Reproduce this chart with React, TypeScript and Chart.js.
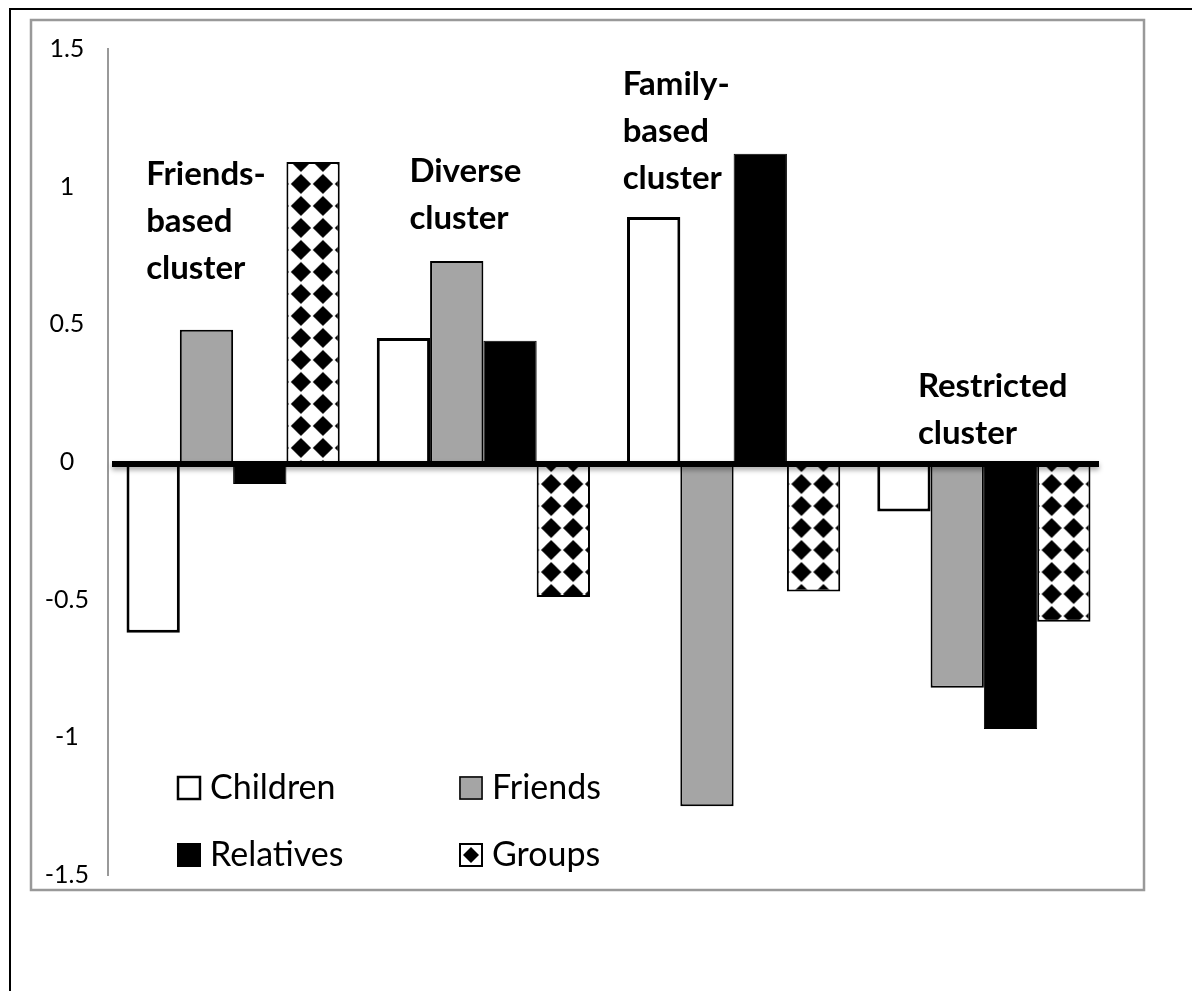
import React, { useEffect, useRef } from "react";
import { Chart, registerables } from "chart.js";

Chart.register(...registerables);

// ---------- data ----------
const categories = ["Friends-based cluster", "Diverse cluster", "Family-based cluster", "Restricted cluster"];
const clusterLabelLines = [
  ["Friends-", "based", "cluster"],
  ["Diverse", "cluster"],
  ["Family-", "based", "cluster"],
  ["Restricted", "cluster"],
];
const seriesNames = ["Children", "Friends", "Relatives", "Groups"];
const children = [-0.62, 0.45, 0.89, -0.18];
const friends = [0.48, 0.73, -1.25, -0.82];
const relatives = [-0.08, 0.44, 1.12, -0.97];
const groups = [1.09, -0.49, -0.47, -0.58];
const yTickValues = [-1.5, -1, -0.5, 0, 0.5, 1, 1.5];

// ---------- styles ----------
const FONT = "Lato, 'Open Sans', 'DejaVu Sans', sans-serif";
const GRAY = "#a5a5a5";
const TILE = 22;

function makeDiamondPattern(): CanvasPattern | null {
  const s = TILE;
  const c = document.createElement("canvas");
  c.width = s;
  c.height = s;
  const g = c.getContext("2d");
  if (!g) return null;
  g.fillStyle = "#fff";
  g.fillRect(0, 0, s, s);
  g.fillStyle = "#000";
  const h = s / 2;
  const r = h * 0.92;
  g.beginPath();
  g.moveTo(h, h - r);
  g.lineTo(h + r, h);
  g.lineTo(h, h + r);
  g.lineTo(h - r, h);
  g.closePath();
  g.fill();
  return g.createPattern(c, "repeat");
}

// label anchor (offset px from category centre, y value of first baseline)
const labelAnchors = [
  { dx: -87, y: 1.006 },
  { dx: -74, y: 1.017 },
  { dx: -111, y: 1.333 },
  { dx: -66, y: 0.236 },
];

export default function App() {
  const ref = useRef<HTMLCanvasElement | null>(null);

  useEffect(() => {
    const canvas = ref.current;
    if (!canvas) return;
    const pattern = makeDiamondPattern();

    const framePlugin = {
      id: "frame",
      beforeDraw(chart: any) {
        const ctx = chart.ctx;
        ctx.save();
        ctx.fillStyle = "#fff";
        ctx.fillRect(0, 0, chart.width, chart.height);
        ctx.strokeStyle = "#000";
        ctx.lineWidth = 2;
        ctx.beginPath();
        ctx.moveTo(10, chart.height + 5);
        ctx.lineTo(10, 9);
        ctx.lineTo(chart.width + 5, 9);
        ctx.stroke();
        ctx.strokeStyle = "#999";
        ctx.lineWidth = 2.5;
        ctx.strokeRect(31, 20, 1113, 870);
        ctx.restore();
      },
    };

    const patternAlignPlugin = {
      id: "patternAlign",
      beforeDatasetDraw(chart: any, args: any) {
        if (args.index !== 3 || !pattern || typeof DOMMatrix === "undefined") return;
        const ctx = chart.ctx;
        ctx.save();
        const a = chart.chartArea;
        ctx.beginPath();
        ctx.rect(a.left, a.top, a.right - a.left, a.bottom - a.top);
        ctx.clip();
        args.meta.data.forEach((el: any) => {
          const left = el.x - el.width / 2;
          const top = Math.min(el.y, el.base);
          pattern.setTransform(new DOMMatrix().translate(left + 3.5, top - TILE / 2));
          el.draw(ctx, a);
        });
        ctx.restore();
        return false;
      },
    };

    const overlayPlugin = {
      id: "overlay",
      afterDatasetsDraw(chart: any) {
        const ctx = chart.ctx;
        const y0 = chart.scales.y.getPixelForValue(0);
        const area = chart.chartArea;
        ctx.save();
        ctx.shadowColor = "rgba(0,0,0,0.35)";
        ctx.shadowBlur = 5;
        ctx.shadowOffsetY = 3;
        ctx.strokeStyle = "#000";
        ctx.lineWidth = 6;
        ctx.beginPath();
        ctx.moveTo(area.left + 4, y0 + 2);
        ctx.lineTo(area.right - 10, y0 + 2);
        ctx.stroke();
        ctx.restore();
      },
      afterDraw(chart: any) {
        const ctx = chart.ctx;
        const xs = chart.scales.x;
        const ys = chart.scales.y;
        ctx.save();
        // cluster labels
        ctx.fillStyle = "#000";
        ctx.font = "bold 33px " + FONT;
        ctx.textBaseline = "alphabetic";
        ctx.textAlign = "left";
        clusterLabelLines.forEach((lines, i) => {
          const a = labelAnchors[i];
          const x = xs.getPixelForValue(i) + a.dx;
          const yb = ys.getPixelForValue(a.y);
          lines.forEach((t, k) => ctx.fillText(t, x, yb + k * 47));
        });
        // legend
        const colX = [177, 459];
        const rowBase = [799, 866];
        ctx.font = "34px " + FONT;
        chart.data.datasets.forEach((ds: any, i: number) => {
          const mx = colX[i % 2];
          const by = rowBase[Math.floor(i / 2)];
          const sz = 24;
          const my = by - 23;
          if (i === 3) {
            ctx.fillStyle = "#fff";
            ctx.fillRect(mx, my, sz, sz);
            ctx.fillStyle = "#000";
            const cx = mx + sz / 2, cy = my + sz / 2, r = 8;
            ctx.beginPath();
            ctx.moveTo(cx, cy - r);
            ctx.lineTo(cx + r, cy);
            ctx.lineTo(cx, cy + r);
            ctx.lineTo(cx - r, cy);
            ctx.closePath();
            ctx.fill();
            ctx.strokeStyle = "#000";
            ctx.lineWidth = 2;
            ctx.strokeRect(mx + 1, my + 1, sz - 2, sz - 2);
          } else {
            ctx.fillStyle = ds.backgroundColor;
            ctx.fillRect(mx, my, sz, sz);
            ctx.strokeStyle = "#000";
            ctx.lineWidth = i === 0 ? 2.5 : 1.5;
            ctx.strokeRect(mx + 1, my + 1, sz - 2, sz - 2);
          }
          ctx.fillStyle = "#000";
          ctx.fillText(ds.label, mx + 33, by);
        });
        ctx.restore();
      },
    };

    const common = { barPercentage: 1, categoryPercentage: 0.852, borderColor: "#000" };
    const chart = new Chart(canvas, {
      type: "bar",
      data: {
        labels: categories,
        datasets: [
          { ...common, label: seriesNames[0], data: children, backgroundColor: "#ffffff", borderWidth: 3 },
          { ...common, label: seriesNames[1], data: friends, backgroundColor: GRAY, borderWidth: 2 },
          { ...common, label: seriesNames[2], data: relatives, backgroundColor: "#000000", borderWidth: 1 },
          { ...common, label: seriesNames[3], data: groups, backgroundColor: (pattern || "#000") as any, borderWidth: 2 },
        ],
      },
      options: {
        responsive: false,
        animation: false,
        devicePixelRatio: 1,
        layout: { padding: { left: 31, top: 49, right: 83, bottom: 116 } },
        plugins: { legend: { display: false }, tooltip: { enabled: false } },
        scales: {
          x: { type: "category", display: false, offset: true },
          y: {
            min: -1.5,
            max: 1.5,
            grid: { display: false },
            border: { display: true, color: "#999", width: 2 },
            afterBuildTicks: (s: any) => {
              s.ticks = yTickValues.map((v) => ({ value: v }));
            },
            afterFit: (s: any) => {
              s.width = 77;
            },
            ticks: {
              color: "#000",
              font: { family: FONT, size: 25 },
              crossAlign: "center",
              padding: 11,
              callback: (v: any) => String(v),
            },
          },
        },
      },
      plugins: [framePlugin, patternAlignPlugin, overlayPlugin],
    });
    return () => chart.destroy();
  }, []);

  return (
    <div style={{ position: "absolute", left: 0, top: 0, width: 1192, height: 991 }}>
      <canvas ref={ref} width={1192} height={991} style={{ display: "block", width: 1192, height: 991 }} />
    </div>
  );
}
